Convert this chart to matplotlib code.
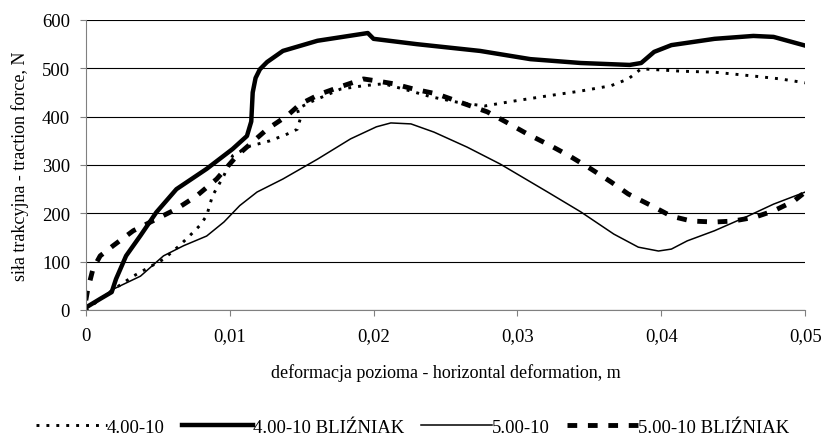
import matplotlib
matplotlib.use("Agg")
import matplotlib.pyplot as plt
from matplotlib.ticker import FuncFormatter

plt.rcParams["font.family"] = ["Liberation Serif", "DejaVu Serif"]

# 4.00-10 (dotted)
x_400 = [0, 0.0018, 0.0033, 0.0042, 0.0054, 0.0065, 0.0072, 0.0079, 0.0084, 0.0088,
         0.0096, 0.0102, 0.0114, 0.0128, 0.014, 0.0147, 0.0149, 0.0147, 0.0156, 0.0177,
         0.0193, 0.0207, 0.0221, 0.024, 0.0258, 0.0277, 0.0297, 0.0321, 0.0344, 0.0365,
         0.0377, 0.0386, 0.0414, 0.0437, 0.0464, 0.0483, 0.05]
y_400 = [0, 40, 70, 85, 105, 133, 153, 174, 195, 236,
         278, 319, 339, 350, 364, 374, 395, 416, 430, 457,
         464, 468, 457, 441, 430, 422, 432, 443, 453, 464,
         478, 499, 494, 492, 484, 478, 470]

# 4.00-10 BLIŹNIAK (thick solid)
x_400b = [0, 0.001, 0.0018, 0.0021, 0.0028, 0.0038, 0.0049, 0.0063, 0.0084, 0.0102,
          0.0112, 0.0115, 0.0116, 0.0118, 0.0121, 0.0126, 0.0137, 0.0161, 0.0196, 0.0200,
          0.023, 0.0274, 0.0309, 0.0344, 0.0378, 0.0386, 0.0395, 0.0407, 0.0437, 0.0464,
          0.0478, 0.05]
y_400b = [5, 23, 37, 64, 112, 154, 202, 250, 292, 333,
          360, 390, 450, 480, 498, 513, 536, 557, 573, 561,
          550, 536, 519, 511, 507, 511, 534, 548, 561, 567,
          565, 547]

# 5.00-10 (thin solid)
x_500 = [0, 0.0019, 0.0038, 0.0054, 0.0068, 0.0084, 0.0096, 0.0107, 0.0119, 0.0137,
         0.0161, 0.0184, 0.0202, 0.0212, 0.0226, 0.0242, 0.0265, 0.0288, 0.0321, 0.0344,
         0.0367, 0.0384, 0.0398, 0.0407, 0.0418, 0.0437, 0.046, 0.0478, 0.05]
y_500 = [2, 43, 70, 112, 133, 153, 182, 216, 244, 271,
         312, 354, 379, 387, 385, 368, 337, 302, 244, 203,
         157, 130, 122, 126, 143, 164, 194, 219, 244]

# 5.00-10 BLIŹNIAK (thick dashed)
x_500b = [0, 0.00014, 0.0005, 0.001, 0.0019, 0.0033, 0.0049, 0.0063, 0.0077, 0.0091,
          0.0105, 0.0126, 0.014, 0.0149, 0.0163, 0.0179, 0.0193, 0.0202, 0.0214, 0.0228,
          0.0244, 0.026, 0.0279, 0.0292, 0.0307, 0.0323, 0.0336, 0.0351, 0.0365, 0.0377,
          0.0393, 0.0407, 0.0421, 0.0437, 0.045, 0.0465, 0.0478, 0.0492, 0.05]
y_500b = [20, 43, 85, 112, 133, 164, 188, 209, 236, 271,
          319, 374, 402, 426, 447, 464, 478, 474, 468, 457,
          447, 430, 410, 389, 364, 340, 319, 292, 265, 240,
          216, 194, 184, 182, 184, 192, 205, 225, 244]

x_ticks = [0, 0.01, 0.02, 0.03, 0.04, 0.05]
y_ticks = [0, 100, 200, 300, 400, 500, 600]

fig = plt.figure(figsize=(8.25, 4.39), dpi=100)
ax = fig.add_axes([0.104, 0.2916, 0.872, 0.6606])

ax.plot(x_400, y_400, color="black", lw=2.1, linestyle=(0, (1, 2.4)), label="4.00-10")
ax.plot(x_400b, y_400b, color="black", lw=3.2, label="4.00-10 BLIŹNIAK")
ax.plot(x_500, y_500, color="black", lw=1.1, label="5.00-10")
ax.plot(x_500b, y_500b, color="black", lw=3.5, linestyle=(0, (2, 2.2)),
        label="5.00-10 BLIŹNIAK")

ax.set_xlim(0, 0.05)
ax.set_ylim(0, 600)
ax.set_xticks(x_ticks)
ax.set_yticks(y_ticks)
ax.xaxis.set_major_formatter(FuncFormatter(lambda v, p: "0" if v == 0 else f"{v:.2f}".replace(".", ",")))
ax.yaxis.grid(True, color="black", lw=0.8)
ax.set_axisbelow(True)
for side in ("top", "right"):
    ax.spines[side].set_visible(False)
for side in ("left", "bottom"):
    ax.spines[side].set_color("#808080")
ax.tick_params(direction="out", length=4.3, color="#808080", labelsize=13.5, pad=7)
ax.tick_params(axis="x", pad=8)

ax.set_xlabel("deformacja pozioma - horizontal deformation, m", fontsize=13, labelpad=14)
ax.set_ylabel("siła trakcyjna - traction force, N", fontsize=13, labelpad=9)

fig.legend(loc="center", bbox_to_anchor=(0.5, 1 - 428 / 439), ncol=4, frameon=False,
           fontsize=13.5, handlelength=3.8, handletextpad=0.0, columnspacing=0.9)

fig.savefig("out.png", dpi=100)
